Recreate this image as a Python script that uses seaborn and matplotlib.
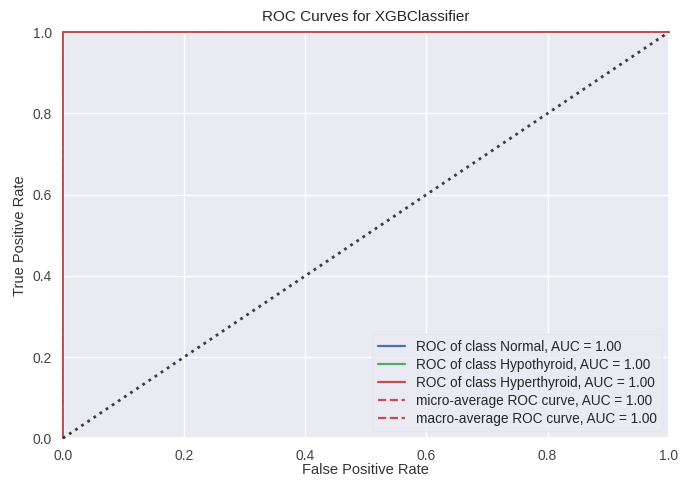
import matplotlib
matplotlib.use("Agg")
import matplotlib.pyplot as plt
import seaborn as sns
import pandas as pd

# Per-class ROC points (perfect separation for every class)
classes = ["Normal", "Hypothyroid", "Hyperthyroid"]
fpr_points = [0.0, 0.0, 1.0]
tpr_points = [0.0, 1.0, 1.0]
class_auc = [1.00, 1.00, 1.00]
micro_auc = 1.00
macro_auc = 1.00
diag = [0.0, 1.0]

sns.set_theme(style="darkgrid", palette="deep")
plt.rcParams["font.family"] = ["Liberation Sans", "DejaVu Sans"]

colors = sns.color_palette("deep")
fig, ax = plt.subplots(figsize=(6.81, 4.80), dpi=100)

for i, (name, auc) in enumerate(zip(classes, class_auc)):
    df = pd.DataFrame({"fpr": fpr_points, "tpr": tpr_points})
    sns.lineplot(data=df, x="fpr", y="tpr", ax=ax, color=colors[[0, 2, 3][i]],
                 lw=1.6, sort=False, estimator=None,
                 label=f"ROC of class {name}, AUC = {auc:.2f}")

avg = pd.DataFrame({"fpr": fpr_points, "tpr": tpr_points})
sns.lineplot(data=avg, x="fpr", y="tpr", ax=ax, color=colors[3], lw=1.6,
             linestyle="--", sort=False, estimator=None,
             label=f"micro-average ROC curve, AUC = {micro_auc:.2f}")
sns.lineplot(data=avg, x="fpr", y="tpr", ax=ax, color=colors[3], lw=1.6,
             linestyle="--", sort=False, estimator=None,
             label=f"macro-average ROC curve, AUC = {macro_auc:.2f}")

ax.set_xlim(0, 1)
ax.set_ylim(0, 1)
ax.set_title("ROC Curves for XGBClassifier", fontsize=11, color="#262626", pad=8)
ax.set_xlabel("False Positive Rate", fontsize=10.5, labelpad=0, color="#333333")
ax.set_ylabel("True Positive Rate", fontsize=10.5, labelpad=4, color="#333333")
ax.tick_params(labelsize=10, pad=2, colors="#444444")
ax.legend(loc="lower right", frameon=True, fontsize=9.8, framealpha=0.8,
          edgecolor="#e4e4ee", labelspacing=0.3)

# curves along the frame edges: drawn thin, unclipped, above the spines
for line in ax.lines:
    line.set_clip_on(False)
    line.set_zorder(3)
    line.set_linewidth(1.1)

ax.plot(diag, diag, linestyle=":", color="#2a2a2a", lw=2, alpha=0.9,
        clip_on=False, zorder=3.5)

fig.subplots_adjust(left=0.0925, right=0.982, top=0.933, bottom=0.087)
fig.savefig("out.png", dpi=100)
